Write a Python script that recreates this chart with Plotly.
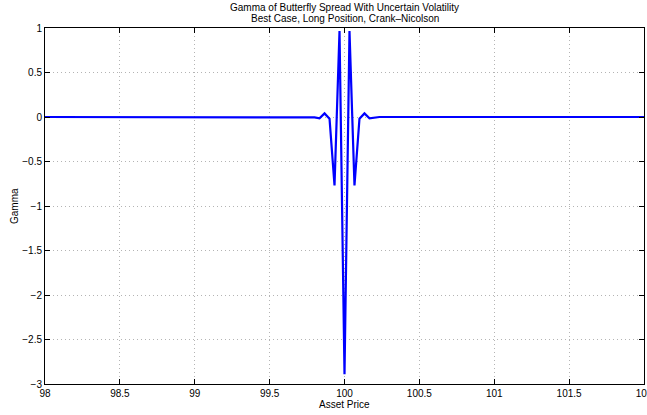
import plotly.graph_objects as go

# Asset price grid (spacing 1/30) and gamma values
steps = list(range(-60, 61))
asset_price = [100 + k / 30 for k in steps]
gamma_near = {0: -2.89, 1: 0.965, -1: 0.965, 2: -0.77, -2: -0.77,
              3: -0.02, -3: -0.02, 4: 0.04, -4: 0.04, 5: -0.015, -5: -0.015,
              6: -0.005, -6: -0.005}
gamma = [gamma_near.get(k, 0.0) for k in steps]

x_ticks = [98, 98.5, 99, 99.5, 100, 100.5, 101, 101.5, 102]
x_tick_labels = ["98", "98.5", "99", "99.5", "100", "100.5", "101", "101.5", "102"]
y_ticks = [-3, -2.5, -2, -1.5, -1, -0.5, 0, 0.5, 1]
y_tick_labels = ["\u22123", "\u22122.5", "\u22122", "\u22121.5", "\u22121", "\u22120.5", "0", "0.5", "1"]

title_lines = ["Gamma of Butterfly Spread With Uncertain Volatility",
               "Best Case, Long Position, Crank\u2013Nicolson"]

fig = go.Figure()
fig.add_trace(go.Scatter(x=asset_price, y=gamma, mode="lines",
                         line=dict(color="rgb(0,0,255)", width=2.2),
                         showlegend=False))

font = "Liberation Sans, Arial, Helvetica, sans-serif"
axis_common = dict(showline=True, linecolor="black", linewidth=1, mirror="ticks",
                   ticks="inside", ticklen=5, tickcolor="black",
                   showgrid=True, gridcolor="rgb(180,180,180)", griddash="1px,3px",
                   gridwidth=1, zeroline=False, automargin=False,
                   ticklabeloverflow="allow",
                   tickfont=dict(family=font, size=10, color="black"))

fig.update_layout(
    width=647, height=415,
    margin=dict(l=45, r=3, t=28, b=31),
    paper_bgcolor="white", plot_bgcolor="white",
    xaxis=dict(range=[98, 102], tickvals=x_ticks, ticktext=x_tick_labels, **axis_common),
    yaxis=dict(range=[-3, 1], tickvals=y_ticks, ticktext=y_tick_labels, **axis_common),
)

tf = dict(family=font, size=10, color="black")
fig.add_annotation(text=title_lines[0], xref="paper", yref="paper", x=0.5, y=1.0562,
                   xanchor="center", yanchor="middle", showarrow=False, font=tf)
fig.add_annotation(text=title_lines[1], xref="paper", yref="paper", x=0.5, y=1.0253,
                   xanchor="center", yanchor="middle", showarrow=False, font=tf)
fig.add_annotation(text="Asset Price", xref="paper", yref="paper", x=0.5, y=-0.0562,
                   xanchor="center", yanchor="middle", showarrow=False, font=tf)
fig.add_annotation(text="Gamma", xref="paper", yref="paper", x=-0.0518, y=0.5,
                   xanchor="center", yanchor="middle", textangle=-90, showarrow=False, font=tf)

fig.write_html("out.html", config={"displayModeBar": False},
               post_script="document.body.style.margin='0';document.body.style.padding='0';")
